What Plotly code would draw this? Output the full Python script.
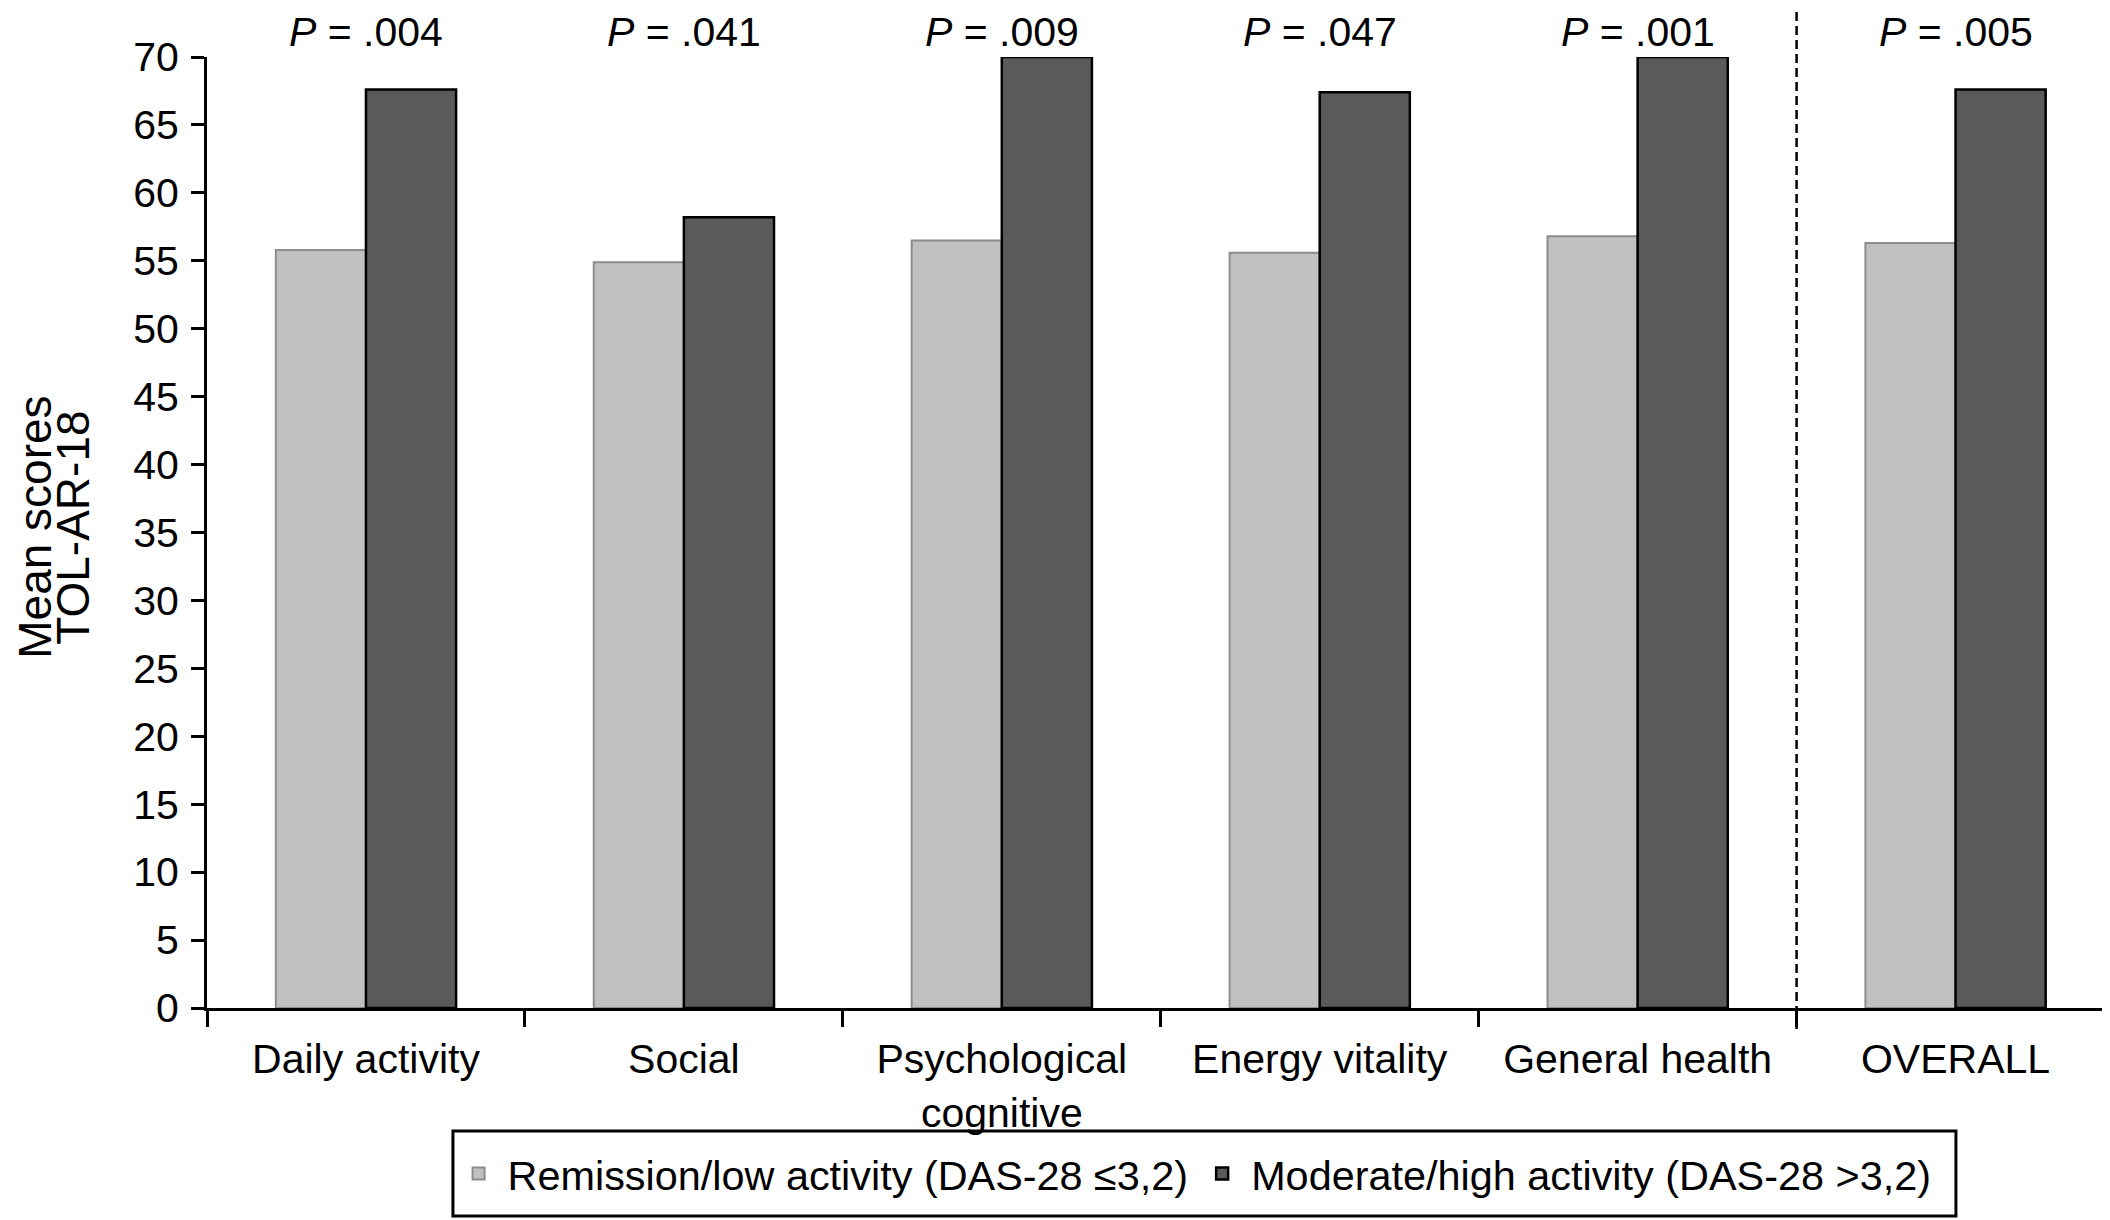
import plotly.graph_objects as go

categories = ["Daily activity", "Social", "Psychological<br>cognitive",
              "Energy vitality", "General health", "OVERALL"]
remission_low = [55.8, 54.9, 56.5, 55.6, 56.8, 56.3]
moderate_high = [67.6, 58.2, 70.0, 67.4, 70.0, 67.6]
p_values = [".004", ".041", ".009", ".047", ".001", ".005"]
series_names = ["Remission/low activity (DAS-28 ≤3,2)",
                "Moderate/high activity (DAS-28 >3,2)"]
y_title_lines = ["Mean scores", "TOL-AR-18"]
y_ticks = list(range(0, 71, 5))

FONT = "Arial, Liberation Sans, sans-serif"
FS = 41

fig = go.Figure()
fig.add_trace(go.Bar(
    x=categories, y=remission_low, name=series_names[0],
    marker=dict(color="#c0c0c0", line=dict(color="#8c8c8c", width=2)),
))
fig.add_trace(go.Bar(
    x=categories, y=moderate_high, name=series_names[1],
    marker=dict(color="#5a5a5a", line=dict(color="#000000", width=2.5)),
))

for cat, p in zip(categories, p_values):
    fig.add_annotation(
        x=cat, xref="x", y=1.0263, yref="paper",
        text=f"<i>P</i> = {p}", showarrow=False,
        xanchor="center", yanchor="middle",
        font=dict(family=FONT, size=FS, color="black"),
    )

# y-axis title (two rotated lines)
for xpos, line in zip([-0.0900, -0.0701], y_title_lines):
    fig.add_annotation(
        x=xpos, xref="paper", y=0.505, yref="paper",
        text=line, textangle=-90, showarrow=False,
        xanchor="center", yanchor="middle",
        font=dict(family=FONT, size=46, color="black"),
    )

# dashed separator between subscales and overall
fig.add_shape(
    type="line", xref="x", yref="paper",
    x0=4.5, x1=4.5, y0=-0.022, y1=1.06,
    line=dict(color="black", width=2.5, dash="9px,5px"),
)

# legend frame
fig.add_shape(
    type="rect", xref="paper", yref="paper",
    x0=0.1287, x1=0.9152, y0=-0.2187, y1=-0.1293,
    line=dict(color="black", width=3), fillcolor="rgba(0,0,0,0)",
)

fig.update_layout(
    width=2110, height=1220,
    margin=dict(l=199, r=0, t=49, b=220),
    paper_bgcolor="white", plot_bgcolor="white",
    barmode="group", bargap=0.433, bargroupgap=0,
    font=dict(family=FONT, size=FS, color="black"),
    showlegend=True,
    legend=dict(
        orientation="h", x=0.516, xanchor="center", y=-0.174, yanchor="middle",
        borderwidth=0, bgcolor="rgba(0,0,0,0)",
        font=dict(family=FONT, size=41.4, color="black"),
        itemwidth=48, tracegroupgap=0,
    ),
)
fig.update_xaxes(
    type="category", range=[-0.5, 5.511],
    showline=True, linecolor="black", linewidth=3,
    ticks="outside", tickson="boundaries", ticklen=16, tickwidth=3,
    tickcolor="black", showgrid=False, zeroline=False,
    tickfont=dict(family=FONT, size=FS, color="black"),
    ticklabelstandoff=13,
)
fig.update_yaxes(
    range=[0, 70], tickmode="array", tickvals=y_ticks,
    showline=True, linecolor="black", linewidth=3,
    ticks="outside", ticklen=13, tickwidth=3, tickcolor="black",
    showgrid=False, zeroline=False,
    tickfont=dict(family=FONT, size=FS, color="black"),
    ticklabelstandoff=4,
)

fig.write_html("out.html")
